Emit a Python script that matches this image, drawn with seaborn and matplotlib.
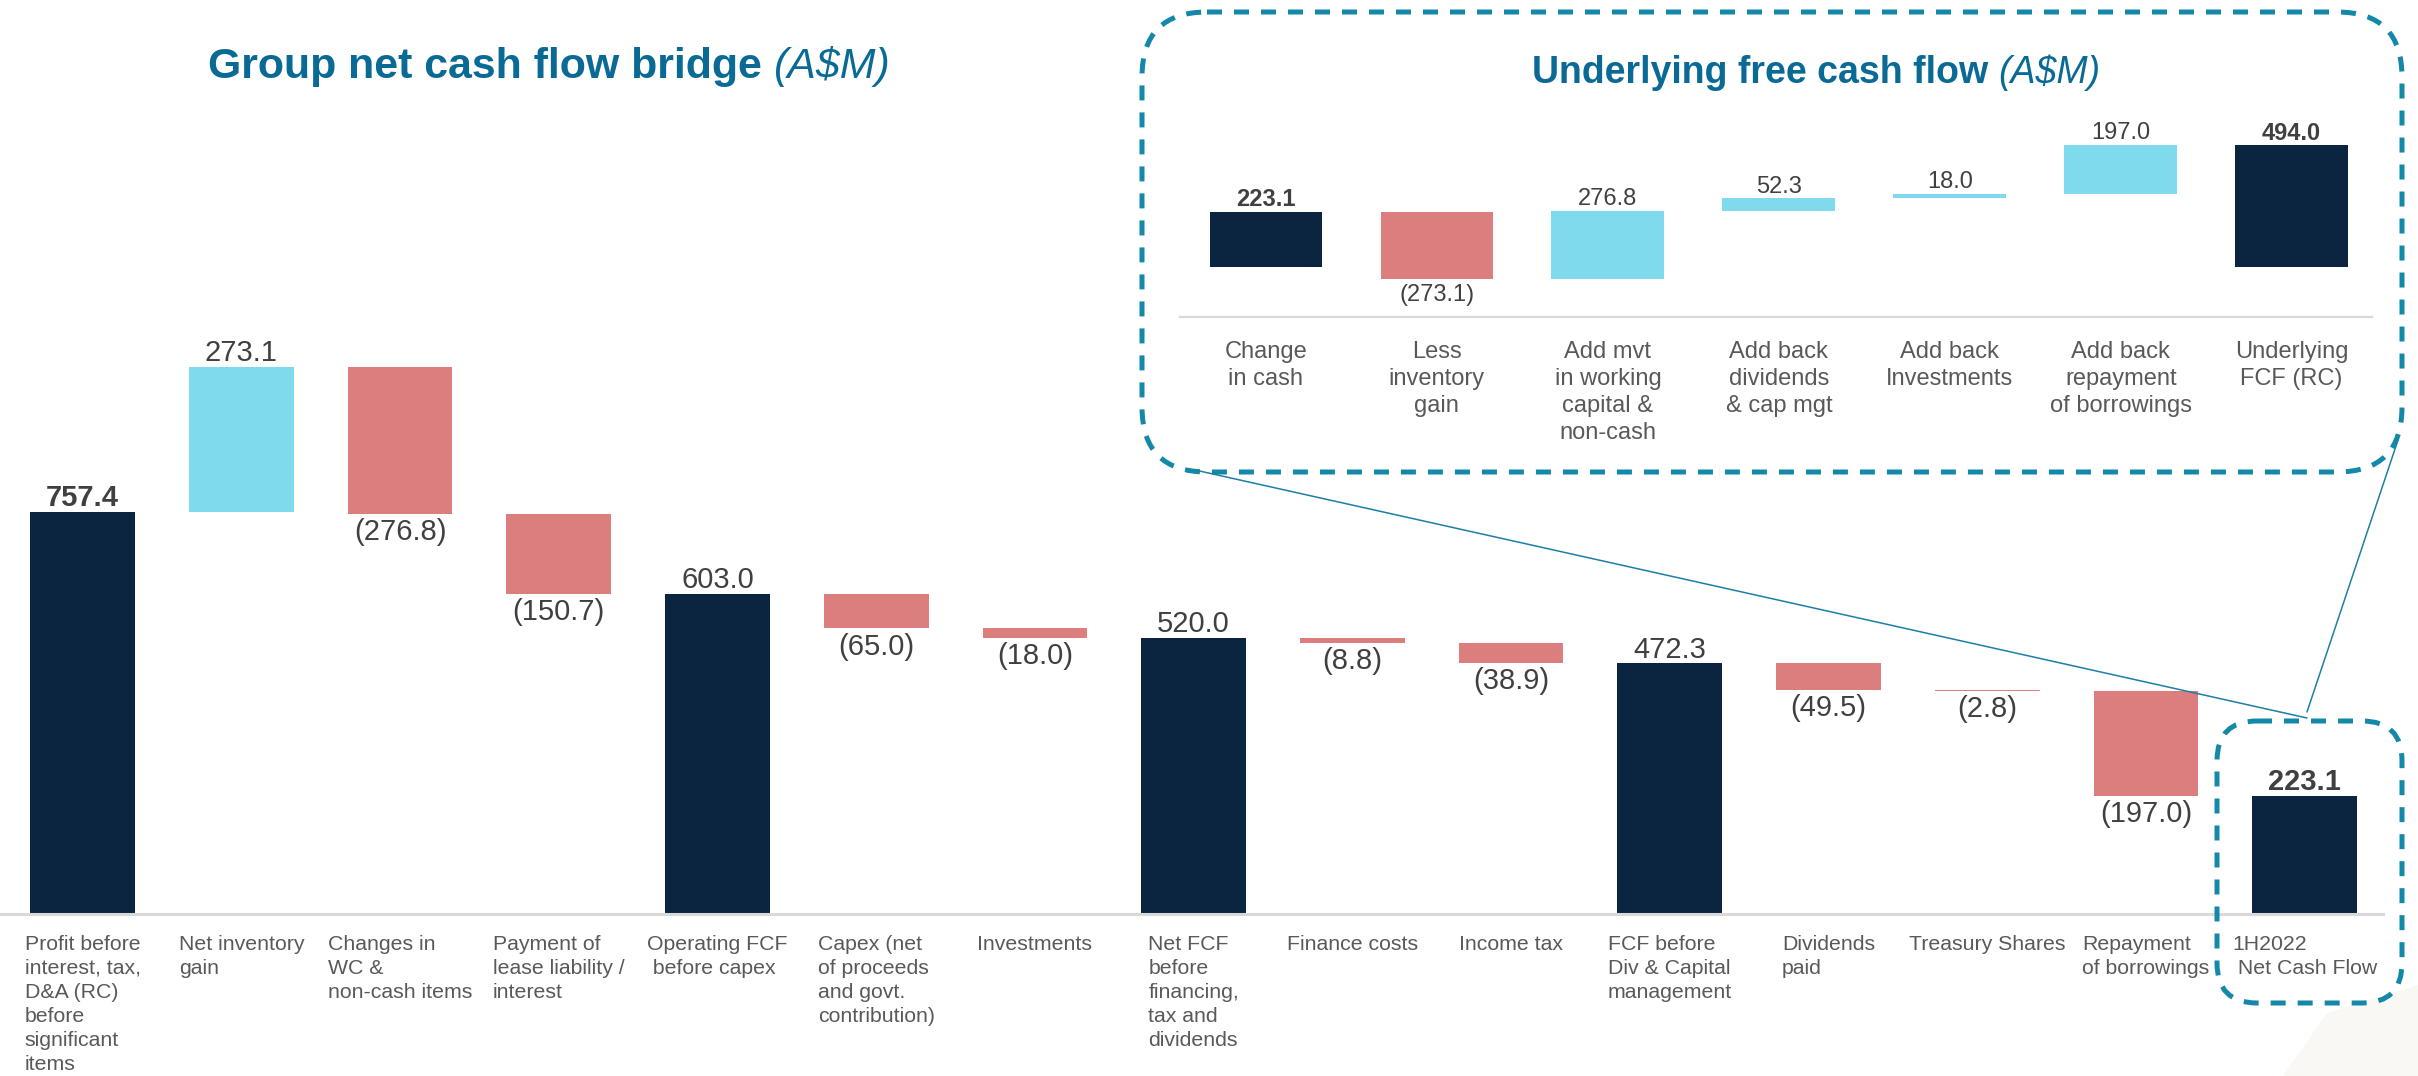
import matplotlib
matplotlib.use("Agg")
import matplotlib.pyplot as plt
from matplotlib.patches import FancyBboxPatch, Polygon
import pandas as pd
import seaborn as sns

# --- group net cash flow bridge (A$M) ---
bridge_steps = [
    "Profit before\ninterest, tax,\nD&A (RC)\nbefore\nsignificant\nitems",
    "Net inventory\ngain",
    "Changes in\nWC &\nnon-cash items",
    "Payment of\nlease liability /\ninterest",
    "Operating FCF\n before capex",
    "Capex (net\nof proceeds\nand govt.\ncontribution)",
    "Investments",
    "Net FCF\nbefore\nfinancing,\ntax and\ndividends",
    "Finance costs",
    "Income tax",
    "FCF before\nDiv & Capital\nmanagement",
    "Dividends\npaid",
    "Treasury Shares",
    "Repayment\nof borrowings",
    "1H2022\n Net Cash Flow",
]
bridge_values = [757.4, 273.1, -276.8, -150.7, 603.0, -65.0, -18.0, 520.0,
                 -8.8, -38.9, 472.3, -49.5, -2.8, -197.0, 223.1]
bridge_kind = ["total", "up", "down", "down", "total", "down", "down", "total",
               "down", "down", "total", "down", "down", "down", "total"]

# --- underlying free cash flow (A$M) ---
fcf_steps = [
    "Change\nin cash",
    "Less\ninventory\ngain",
    "Add mvt\nin working\ncapital &\nnon-cash",
    "Add back\ndividends\n& cap mgt",
    "Add back\nInvestments",
    "Add back\nrepayment\nof borrowings",
    "Underlying\nFCF (RC)",
]
fcf_values = [223.1, -273.1, 276.8, 52.3, 18.0, 197.0, 494.0]
fcf_kind = ["total", "down", "up", "up", "up", "up", "total"]

NAVY = "#0B2540"
SKY = "#80DAEE"
SALMON = "#DC7E7E"
TITLE_C = "#0A6A96"
BOX_C = "#1488A9"
VAL_C = "#404040"
CAT_C = "#595959"
AXIS_C = "#D9D9D9"

sns.set_theme(style="white")
plt.rcParams["font.family"] = ["Liberation Sans", "DejaVu Sans"]


def waterfall_frame(steps, values, kinds):
    rows = []
    running = 0.0
    for s, v, k in zip(steps, values, kinds):
        if k == "total":
            bottom, height = 0.0, v
            running = v
        elif v >= 0:
            bottom, height = running, v
            running += v
        else:
            bottom, height = running + v, -v
            running += v
        rows.append(dict(step=s, value=v, kind=k, bottom=bottom, height=height))
    return pd.DataFrame(rows)


def draw_bars(ax, df, width):
    palette = {"total": NAVY, "up": SKY, "down": SALMON}
    for kind, col in palette.items():
        sub = df[df["kind"] == kind]
        sns.barplot(data=sub, x="step", y="height", order=list(df["step"]),
                    color=col, saturation=1, width=width, errorbar=None,
                    bottom=sub["bottom"].to_numpy(), linewidth=0, ax=ax)
    ax.set_xlabel("")
    ax.set_ylabel("")
    ax.set_xticks([])
    ax.set_yticks([])
    for side in ["top", "left", "right"]:
        ax.spines[side].set_visible(False)


def value_labels(ax, df, size, bold_idx):
    for i, r in df.iterrows():
        weight = "bold" if i in bold_idx else "normal"
        if r["kind"] == "down":
            txt = f"({abs(r['value']):.1f})"
            ax.annotate(txt, (i, r["bottom"]), xytext=(0, -3), textcoords="offset points",
                        ha="center", va="top", fontsize=size, color=VAL_C, fontweight=weight)
        else:
            txt = f"{r['value']:.1f}"
            ax.annotate(txt, (i, r["bottom"] + r["height"]), xytext=(0, 4),
                        textcoords="offset points", ha="center", va="baseline",
                        fontsize=size, color=VAL_C, fontweight=weight)


W, H = 2418, 1076
fig = plt.figure(figsize=(W / 100, H / 100), dpi=100)
fig.patch.set_facecolor("white")

# main bridge axes
main_df = waterfall_frame(bridge_steps, bridge_values, bridge_kind)
ax = fig.add_axes([0, (H - 914) / H, 2383 / W, 914 / H])
ax.patch.set_alpha(0)
draw_bars(ax, main_df, 0.66)
ax.set_xlim(-0.521, 14.494)
ax.set_ylim(0, 914 / 0.5308)
ax.spines["bottom"].set_color(AXIS_C)
ax.spines["bottom"].set_linewidth(2.2)
value_labels(ax, main_df, 21, {0, len(main_df) - 1})
for i, s in enumerate(bridge_steps):
    ax.annotate(s, (i, 0), xytext=(0, -15), textcoords="offset points",
                ha="center", multialignment="left", va="top", fontsize=15.3,
                color=CAT_C, linespacing=1.34, annotation_clip=False)

# inset axes
fcf_df = waterfall_frame(fcf_steps, fcf_values, fcf_kind)
ins_bottom, ins_top = 317, 100
iax = fig.add_axes([1180 / W, (H - ins_bottom) / H, (2372 - 1180) / W, (ins_bottom - ins_top) / H])
iax.patch.set_alpha(0)
draw_bars(iax, fcf_df, 0.66)
iax.set_xlim(-0.503, 6.47)
iax.set_ylim(-202.6, -202.6 + (ins_bottom - ins_top) / 0.2468)
iax.spines["bottom"].set_color(AXIS_C)
iax.spines["bottom"].set_linewidth(1.6)
value_labels(iax, fcf_df, 17, {0, len(fcf_df) - 1})
for i, s in enumerate(fcf_steps):
    iax.annotate(s, (i, 0), xycoords=("data", "axes fraction"), xytext=(0, -17),
                 textcoords="offset points", ha="center", va="top", fontsize=17,
                 color=CAT_C, linespacing=1.3, annotation_clip=False)

# overlay in pixel coordinates for titles, callout boxes and connectors
ov = fig.add_axes([0, 0, 1, 1], zorder=5)
ov.set_xlim(0, W)
ov.set_ylim(H, 0)
ov.axis("off")
ov.patch.set_alpha(0)

ov.add_patch(Polygon([(2283, 1076), (2327, 1013), (2418, 985), (2418, 1076)],
                     closed=True, facecolor="#F9F8F5", edgecolor="none", zorder=0))

dash = (0, (3, 2.4))
ov.add_patch(FancyBboxPatch((1142, 12), 2402 - 1142, 472 - 12,
                            boxstyle="round,pad=0,rounding_size=65",
                            fill=False, edgecolor=BOX_C, lw=3.6, linestyle=dash))
ov.add_patch(FancyBboxPatch((2217, 721), 2402 - 2217, 1003 - 721,
                            boxstyle="round,pad=0,rounding_size=40",
                            fill=False, edgecolor=BOX_C, lw=3.6, linestyle=dash))
ov.plot([1195, 2307], [470, 718], color="#1F7DA6", lw=1.1)
ov.plot([2398, 2307], [440, 712], color="#1F7DA6", lw=1.1)

fig.canvas.draw()
renderer = fig.canvas.get_renderer()


def two_part_title(x, y, main, unit, size):
    t = ov.text(x, y, main, fontsize=size, fontweight="bold", color=TITLE_C, va="baseline")
    bb = t.get_window_extent(renderer)
    ov.text(bb.x1 + size * 0.28 * 100 / 72, y, unit, fontsize=size, style="italic",
            color=TITLE_C, va="baseline")


two_part_title(208, 78, "Group net cash flow bridge", "(A$M)", 30.9)
two_part_title(1532, 83, "Underlying free cash flow", "(A$M)", 27)

fig.savefig("out.png", dpi=100, facecolor="white")
